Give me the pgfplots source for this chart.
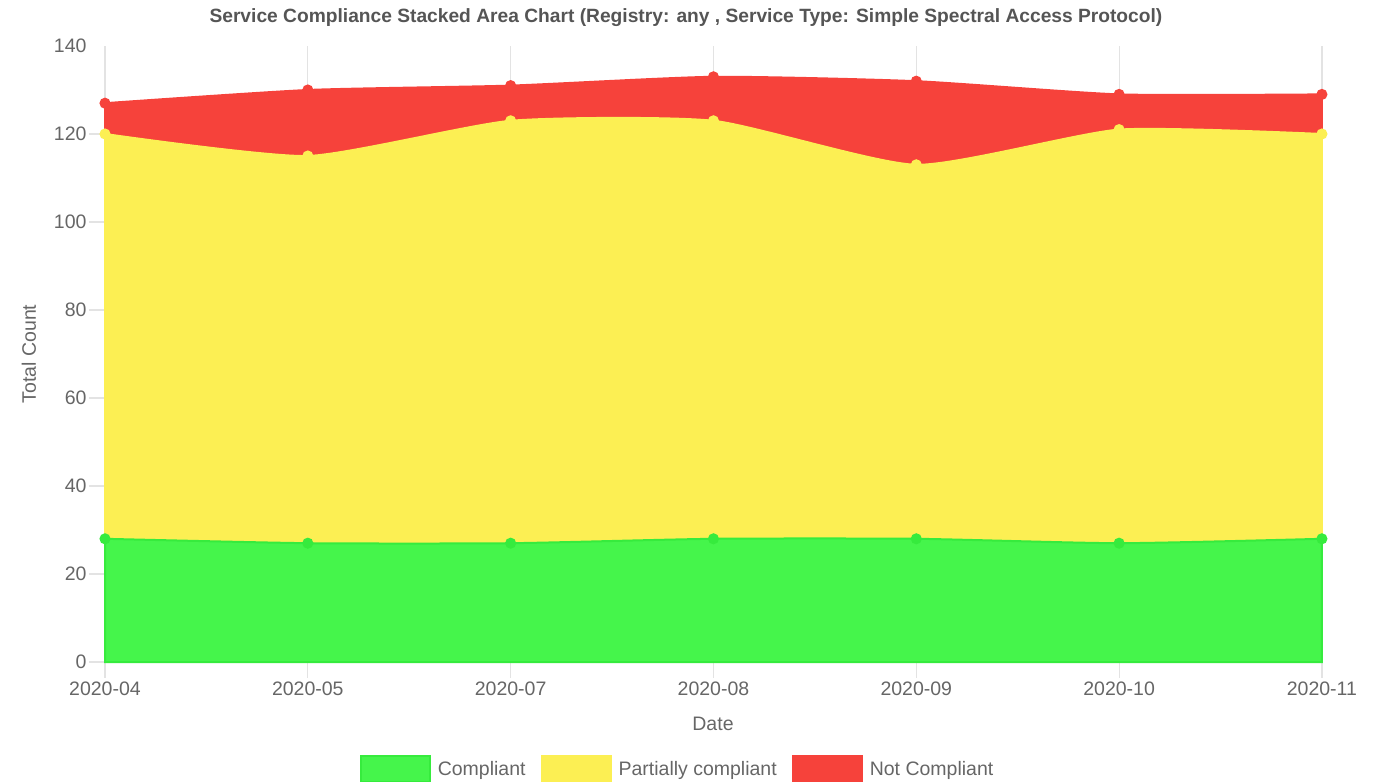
\documentclass[border=0pt]{standalone}
\usepackage{pgfplots}
\pgfplotsset{compat=1.18}
\usepackage{fontspec}
\setmainfont{Liberation Sans}
\definecolor{cgreen}{HTML}{45F54B}
\definecolor{cgreenline}{HTML}{36EB3D}
\definecolor{cyellow}{HTML}{FCEF53}
\definecolor{cred}{HTML}{F6423B}
\definecolor{txt}{HTML}{666666}
\definecolor{ttl}{HTML}{555555}
\definecolor{gridc}{HTML}{E3E3E3}
\definecolor{axc}{HTML}{A8A8A8}
\begin{document}
\begin{tikzpicture}
\useasboundingbox (0,0) rectangle (1374pt,782pt);
\node[text=ttl, font=\bfseries\fontsize{19.2}{21}\selectfont] at (686pt,764pt) {Service Compliance Stacked Area Chart (Registry: any , Service Type: Simple Spectral Access Protocol)};
\node[text=txt, rotate=90, font=\fontsize{19.5}{21}\selectfont] at (29pt,428pt) {Total Count};
\node[text=txt, font=\fontsize{19.5}{21}\selectfont] at (713pt,58pt) {Date};
\begin{axis}[
  at={(105pt,120pt)}, anchor=south west,
  scale only axis, width=1217pt, height=616pt,
  xmin=0, xmax=6, ymin=0, ymax=140,
  stack plots=y,
  axis line style={draw=none},
  xtick={0,...,6},
  xticklabels={2020-04,2020-05,2020-07,2020-08,2020-09,2020-10,2020-11},
  ytick={0,20,...,120},
  extra y ticks={140}, extra y tick style={tick style={draw=none}},
  xmajorgrids, grid style={gridc, line width=1.2pt},
  tick style={gridc, line width=1.2pt},
  major tick length=16pt,
  tick align=outside,
  xtick pos=bottom, ytick pos=left,
  xticklabel style={text=txt, font=\fontsize{19.5}{21}\selectfont},
  yticklabel style={text=txt, font=\fontsize{19.5}{21}\selectfont, xshift=1pt},
  /pgf/number format/assume math mode=true,
  clip=false,
  legend columns=3,
  legend style={at={(0.4705,-0.1737)}, anchor=center, draw=none, fill=none,
    font=\fontsize{19.5}{21}\selectfont, text=txt,
    /tikz/every odd column/.append style={column sep=5pt},
    /tikz/every even column/.append style={column sep=13pt}},
  legend image code/.code={\fill[#1] (0pt,-13pt) rectangle (69pt,13pt);},
]
\addplot[smooth, tension=0.35, draw=cgreenline, line width=2pt, fill=cgreen, mark=*, mark size=4.5pt, mark options={fill=cgreenline, draw=cgreenline}]
  coordinates {(0,28) (1,27) (2,27) (3,28) (4,28) (5,27) (6,28)} \closedcycle;
\addlegendentry{Compliant}
\addplot[smooth, tension=0.35, draw=cyellow, line width=2pt, fill=cyellow, mark=*, mark size=4.5pt, mark options={fill=cyellow, draw=cyellow}]
  coordinates {(0,92) (1,88) (2,96) (3,95) (4,85) (5,94) (6,92)} \closedcycle;
\addlegendentry{Partially compliant}
\addplot[smooth, tension=0.35, draw=cred, line width=2pt, fill=cred, mark=*, mark size=4.5pt, mark options={fill=cred, draw=cred}]
  coordinates {(0,7) (1,15) (2,8) (3,10) (4,19) (5,8) (6,9)} \closedcycle;
\addlegendentry{Not Compliant}
\draw[axc, line width=1.2pt] (rel axis cs:0,0) -- (rel axis cs:1,0);
\end{axis}
\end{tikzpicture}
\end{document}
